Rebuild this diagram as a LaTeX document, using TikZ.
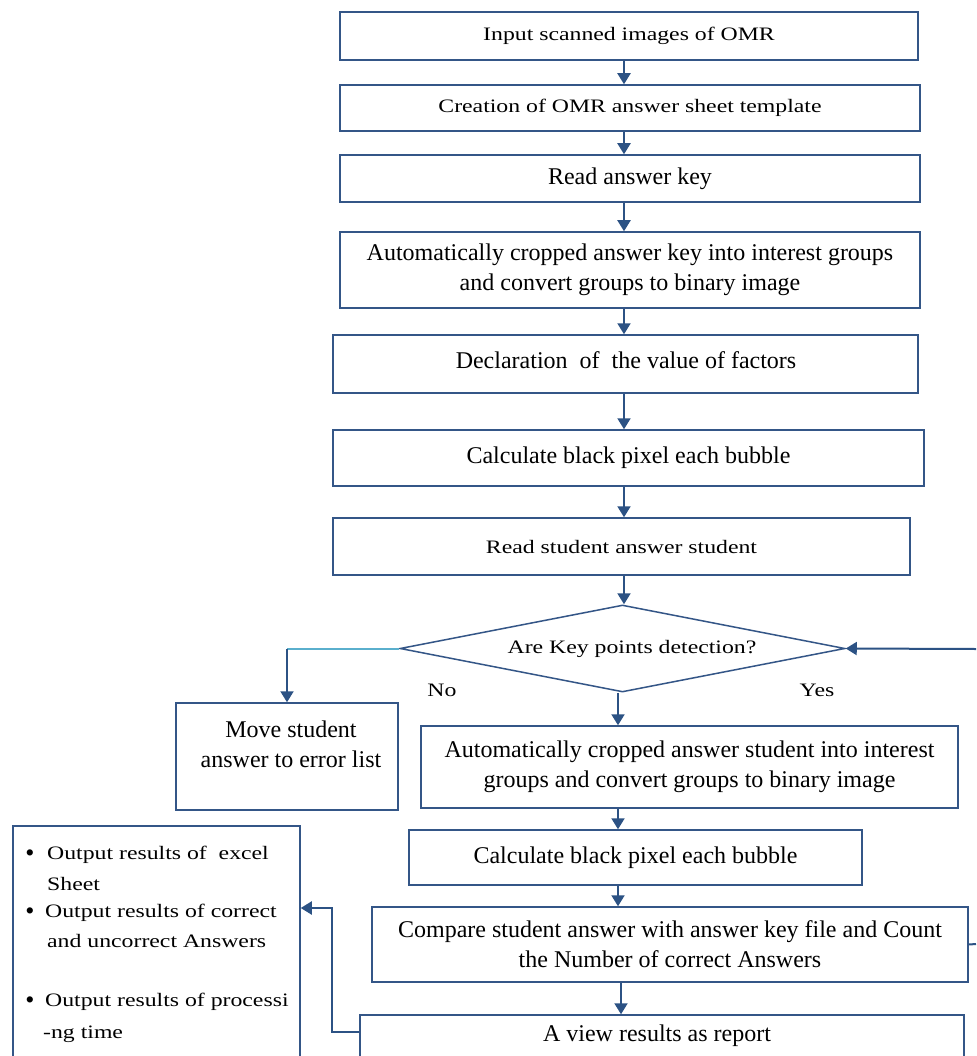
\documentclass[tikz,border=0pt]{standalone}
\usepackage{fontspec}
\setmainfont{Liberation Serif}
\newfontfamily\widefont[FakeStretch=1.25]{Liberation Serif}
\usetikzlibrary{shapes.geometric,arrows.meta,calc}
\definecolor{boxblue}{RGB}{52,86,135}
\definecolor{linkblue}{RGB}{44,82,132}
\definecolor{lightblue}{RGB}{90,175,205}
\tikzset{
  procbox/.style={draw=boxblue,line width=1.5pt,rectangle,inner sep=0pt,align=center,text=black},
  bigtext/.style={font=\fontsize{24}{30}\selectfont},
  smalltext/.style={font=\widefont\fontsize{19}{24}\selectfont},
  arr/.style={draw=linkblue,line width=2pt,-{Triangle[width=13pt,length=11pt]}},
  plainlink/.style={draw=linkblue,line width=2pt},
  nolink/.style={draw=lightblue,line width=2pt},
  decision/.style={draw=boxblue,line width=1.5pt,diamond,shape aspect=5.1,inner sep=0pt,minimum width=445pt,minimum height=87pt},
  plaintext/.style={inner sep=0pt,text=black}
}
\begin{document}
\begin{tikzpicture}[x=1pt,y=-1pt]
\useasboundingbox (0,0) rectangle (976,1056);
\clip (0,0) rectangle (976,1056);
\fill[white] (0,0) rectangle (976,1056);

\node[procbox,smalltext,minimum width=578pt,minimum height=48pt] (b1) at (629,36) {Input scanned images of OMR};
\node[procbox,smalltext,minimum width=580pt,minimum height=46pt] (b2) at (630,108) {Creation of OMR answer sheet template};
\node[procbox,bigtext,minimum width=580pt,minimum height=47pt] (b3) at (630,178.5) {Read answer key};
\node[procbox,bigtext,minimum width=580pt,minimum height=76pt] (b4) at (630,270) {Automatically cropped answer key into interest groups\\and convert groups to binary image};
\node[procbox,bigtext,minimum width=585pt,minimum height=58pt] (b5) at (625.5,364) {};
\node[plaintext,bigtext] (t5) at (626,360) {Declaration\ \ of\ \ the value of factors};
\node[procbox,bigtext,minimum width=591pt,minimum height=56pt] (b6) at (628.5,458) {Calculate black pixel each bubble};
\node[procbox,smalltext,minimum width=577pt,minimum height=57pt] (b7) at (621.5,546.5) {Read student answer student};

\node[decision] (d) at (622.5,648.5) {};
\node[plaintext,smalltext] (dt) at (632,649) {Are Key points detection?};

\node[procbox,bigtext,minimum width=222pt,minimum height=107pt] (mv) at (287,756.5) {};
\node[plaintext,bigtext,align=center] (mvt) at (291,744) {Move student\\answer to error list};

\node[procbox,bigtext,minimum width=537pt,minimum height=82pt] (a2) at (689.5,767) {Automatically cropped answer student into interest\\groups and convert groups to binary image};
\node[procbox,bigtext,minimum width=453pt,minimum height=55pt] (c2) at (635.5,857.5) {Calculate black pixel each bubble};
\node[procbox,bigtext,minimum width=596pt,minimum height=75pt] (cmp) at (670,944.5) {Compare student answer with answer key file and Count\\the Number of correct Answers};
\node[procbox,minimum width=604pt,minimum height=70pt] (rep) at (662,1050) {};
\node[plaintext,bigtext] (rept) at (657,1036) {A view results as report};

\node[procbox,minimum width=287pt,minimum height=260pt] (out) at (156.5,956) {};
\node[plaintext,font=\fontsize{26}{26}\selectfont] (ob1) at (30,856) {\textbullet};
\node[plaintext,smalltext,anchor=west] (o1) at (47,855) {Output results of\ \ excel};
\node[plaintext,smalltext,anchor=west] (o2) at (47,884) {Sheet};
\node[plaintext,font=\fontsize{26}{26}\selectfont] (ob2) at (30,914) {\textbullet};
\node[plaintext,smalltext,anchor=west] (o3) at (45,913) {Output results of correct};
\node[plaintext,smalltext,anchor=west] (o4) at (47,941) {and uncorrect Answers};
\node[plaintext,font=\fontsize{26}{26}\selectfont] (ob3) at (30,1003) {\textbullet};
\node[plaintext,smalltext,anchor=west] (o5) at (45,1002) {Output results of processi};
\node[plaintext,smalltext,anchor=west] (o6) at (43,1034) {-ng time};

\node[plaintext,smalltext] (no) at (442,690) {No};
\node[plaintext,smalltext] (yes) at (817,690) {Yes};

\coordinate (rin) at (976,649);
\coordinate (rout) at (976,944);

\draw[arr] ([xshift=-5pt]b1.south) -- ([xshift=-5pt]b1.south |- b2.north);
\draw[arr] ([xshift=-6pt]b2.south) -- ([xshift=-6pt]b2.south |- b3.north);
\draw[arr] ([xshift=-6pt]b3.south) -- ([xshift=-6pt]b3.south |- b4.north);
\draw[arr] ([xshift=-6pt]b4.south) -- ([xshift=-6pt]b4.south |- b5.north);
\draw[arr] ([xshift=-1.5pt]b5.south) -- ([xshift=-1.5pt]b5.south |- b6.north);
\draw[arr] ([xshift=-4.5pt]b6.south) -- ([xshift=-4.5pt]b6.south |- b7.north);
\draw[arr] ([xshift=2.5pt]b7.south) -- ([xshift=2.5pt]b7.south |- d.north);
\draw[arr] ([xshift=-4.5pt]d.south) -- ([xshift=-4.5pt]d.south |- a2.north);
\draw[arr] ([xshift=-4.5pt]d.south |- a2.south) -- ([xshift=-4.5pt]d.south |- c2.north);
\draw[arr] ([xshift=-4.5pt]d.south |- c2.south) -- ([xshift=-4.5pt]d.south |- cmp.north);
\draw[arr] ([xshift=-1.5pt]d.south |- cmp.south) -- ([xshift=-1.5pt]d.south |- rep.north);

\draw[nolink] (d.west) -- (mv.north |- d.west);
\draw[arr] (mv.north |- d.west) -- (mv.north);
\draw[arr] (rin) -- (d.east);
\draw[plainlink] (cmp.east) -- (rout);
\draw[arr] ([yshift=18pt]rep.west) -- ++(-27,0) |- ([yshift=48pt]out.east);
\end{tikzpicture}
\end{document}
